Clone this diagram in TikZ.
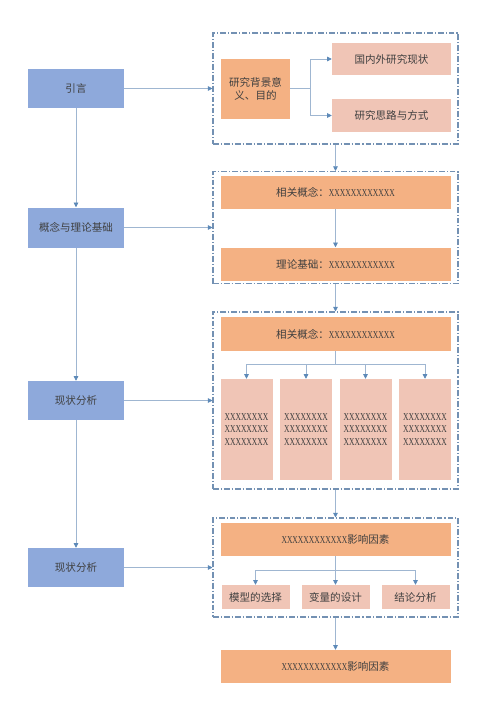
\documentclass[tikz,border=0pt]{standalone}
\usepackage{fontspec}
\setmainfont{Liberation Serif}
\newfontfamily\cjk{Noto Sans CJK SC}
\usepackage{graphicx}
\usepackage{tikz}
\usetikzlibrary{arrows.meta}
\definecolor{lanse}{HTML}{8EA9DB}
\definecolor{chengse}{HTML}{F4B183}
\definecolor{fense}{HTML}{F0C5B6}
\definecolor{kuangse}{HTML}{7391B3}
\definecolor{xianse}{HTML}{9FB6D1}
\definecolor{jiantouse}{HTML}{5C89B8}
\definecolor{wenzi}{HTML}{3F3F3F}
\newcommand{\iks}[1]{\scalebox{0.72}[1]{\rmfamily #1}}
\tikzstyle{lan} = [rectangle, fill=lanse, minimum width=2.88cm, minimum height=1.17cm, inner sep=0pt, text=wenzi, font=\cjk\fontsize{9}{11}\selectfont]
\tikzstyle{cheng} = [rectangle, fill=chengse, minimum width=6.9cm, minimum height=0.99cm, inner sep=0pt, text=wenzi, align=center, font=\cjk\fontsize{9}{11}\selectfont]
\tikzstyle{fen} = [rectangle, fill=fense, minimum width=3.57cm, minimum height=0.97cm, inner sep=0pt, text=wenzi, align=center, font=\cjk\fontsize{9}{11}\selectfont]
\tikzstyle{fengao} = [fen, minimum width=1.56cm, minimum height=3.03cm]
\tikzstyle{fenxiao} = [fen, minimum width=2.04cm, minimum height=0.72cm]
\tikzstyle{kuang} = [rectangle, draw=kuangse, line width=0.9pt, dash pattern=on 5pt off 1.7pt on 0.9pt off 1.7pt, minimum width=7.35cm]
\tikzstyle{xian} = [draw=xianse, line width=0.7pt, -{Triangle[length=4pt,width=4pt,color=jiantouse]}]

\begin{document}
\begin{tikzpicture}[node distance = 1cm, auto]
\useasboundingbox (0,0) rectangle (15,-21.24);
\node [lan] (yinyan) at (2.28,-2.655) {引言};
\node [lan, below of=yinyan, node distance=4.17cm, minimum height=1.2cm] (gainian) {概念与理论基础};
\node [lan, below of=gainian, node distance=5.19cm] (xianzhuang) {现状分析};
\node [lan, below of=xianzhuang, node distance=5.01cm] (xianzhuang2) {现状分析};

\node [kuang, right of=yinyan, node distance=7.785cm, minimum height=3.33cm] (kuang1) {};
\node [kuang, right of=gainian, node distance=7.785cm, minimum height=3.36cm] (kuang2) {};
\node [kuang, right of=xianzhuang, node distance=7.785cm, minimum height=5.31cm] (kuang3) {};
\node [kuang, right of=xianzhuang2, node distance=7.785cm, minimum height=2.97cm] (kuang4) {};

% kuang 1
\node [cheng, left of=kuang1, node distance=2.4cm, minimum width=2.07cm, minimum height=1.8cm] (beijing) {研究背景意\\义、目的};
\node [fen, right of=beijing, node distance=4.08cm, yshift=0.885cm] (guonei) {国内外研究现状};
\node [fen, below of=guonei, node distance=1.695cm] (silu) {研究思路与方式};
\coordinate [right of=beijing, node distance=1.635cm] (cabang1);

% kuang 2
\node [cheng, above of=kuang2, node distance=1.05cm] (xiangguan1) {相关概念：\iks{XXXXXXXXXXXX}};
\node [cheng, below of=xiangguan1, node distance=2.145cm] (lilun) {理论基础：\iks{XXXXXXXXXXXX}};

% kuang 3
\node [cheng, above of=kuang3, node distance=1.995cm, minimum height=1.02cm] (xiangguan2) {相关概念：\iks{XXXXXXXXXXXX}};
\coordinate [below of=xiangguan2, node distance=0.9cm] (cabang3);
\node [fengao, below of=xiangguan2, node distance=2.865cm, xshift=-2.67cm] (neirong1) {\iks{XXXXXXXX}\\\iks{XXXXXXXX}\\\iks{XXXXXXXX}};
\node [fengao, right of=neirong1, node distance=1.785cm] (neirong2) {\iks{XXXXXXXX}\\\iks{XXXXXXXX}\\\iks{XXXXXXXX}};
\node [fengao, right of=neirong2, node distance=1.785cm] (neirong3) {\iks{XXXXXXXX}\\\iks{XXXXXXXX}\\\iks{XXXXXXXX}};
\node [fengao, right of=neirong3, node distance=1.785cm] (neirong4) {\iks{XXXXXXXX}\\\iks{XXXXXXXX}\\\iks{XXXXXXXX}};

% kuang 4
\node [cheng, above of=kuang4, node distance=0.84cm] (yingxiang) {\iks{XXXXXXXXXXXX}影响因素};
\coordinate [below of=yingxiang, node distance=0.93cm] (cabang4);
\node [fenxiao, below of=yingxiang, node distance=1.725cm] (bianliang) {变量的设计};
\node [fenxiao, left of=bianliang, node distance=2.4cm] (moxing) {模型的选择};
\node [fenxiao, right of=bianliang, node distance=2.4cm] (jielun) {结论分析};

\node [cheng, below of=kuang4, node distance=2.97cm] (zuihou) {\iks{XXXXXXXXXXXX}影响因素};

\path[xian](yinyan) -- (gainian);
\path[xian](gainian) -- (xianzhuang);
\path[xian](xianzhuang) -- (xianzhuang2);

\path[xian](yinyan) -- (kuang1);
\path[xian](gainian) -- (kuang2);
\path[xian](xianzhuang) -- (kuang3);
\path[xian](xianzhuang2) -- (kuang4);

\path[xian](kuang1) -- (kuang2);
\path[xian](kuang2) -- (kuang3);
\path[xian](kuang3) -- (kuang4);
\path[xian](kuang4) -- (zuihou);

\path[xian](beijing) -- (cabang1) |- (guonei);
\path[xian](beijing) -- (cabang1) |- (silu);

\path[xian](xiangguan1) -- (lilun);

\path[xian](xiangguan2) -- (cabang3) -| (neirong1);
\path[xian](xiangguan2) -- (cabang3) -| (neirong2);
\path[xian](xiangguan2) -- (cabang3) -| (neirong3);
\path[xian](xiangguan2) -- (cabang3) -| (neirong4);

\path[xian](yingxiang) -- (cabang4) -| (moxing);
\path[xian](yingxiang) -- (cabang4) -| (bianliang);
\path[xian](yingxiang) -- (cabang4) -| (jielun);
\end{tikzpicture}
\end{document}
